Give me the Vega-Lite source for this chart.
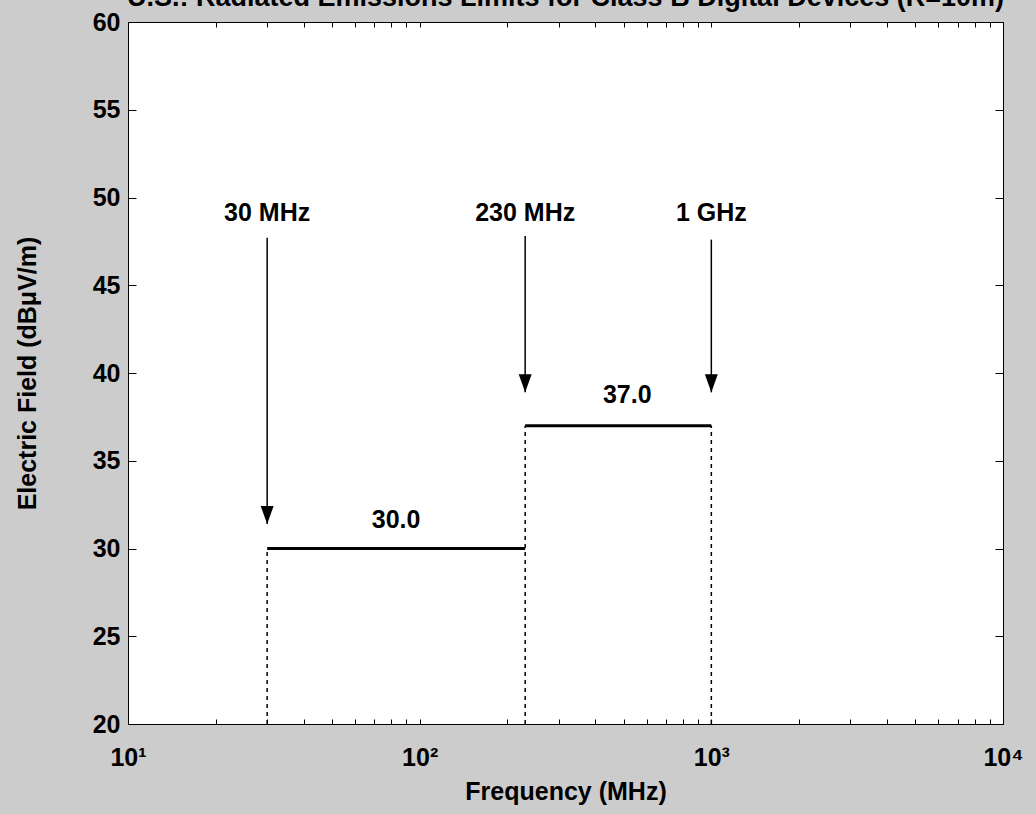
{
  "$schema": "https://vega.github.io/schema/vega-lite/v6.json",
  "width": 875,
  "height": 702,
  "autosize": {"type": "none"},
  "padding": {"left": 128, "top": 22, "right": 33, "bottom": 90},
  "background": "#cccccc",
  "title": {
    "text": "U.S.: Radiated Emissions Limits for Class B Digital Devices (R=10m)",
    "anchor": "middle",
    "baseline": "bottom",
    "offset": 0,
    "dy": 29,
    "font": "Liberation Sans",
    "fontSize": 27,
    "fontWeight": "bold",
    "color": "black"
  },
  "config": {
    "view": {"fill": "white", "stroke": "black", "strokeWidth": 1},
    "axis": {
      "grid": false,
      "domain": false,
      "tickColor": "black",
      "tickWidth": 1,
      "labelColor": "black",
      "labelFont": "Liberation Sans",
      "labelFontSize": 25,
      "labelFontWeight": "bold",
      "titleColor": "black",
      "titleFont": "Liberation Sans",
      "titleFontSize": 25,
      "titleFontWeight": "bold",
      "labelOverlap": false,
      "labelFlush": false,
      "labelBound": false
    },
    "text": {"font": "Liberation Sans", "fontSize": 25, "fontWeight": "bold", "color": "black"}
  },
  "datasets": {
    "limits": [
      {"f1": 30, "f2": 230, "limit": 30},
      {"f1": 230, "f2": 1000, "limit": 37}
    ],
    "dashes": [
      {"freq": 30, "lo": 20, "hi": 30},
      {"freq": 230, "lo": 20, "hi": 37},
      {"freq": 1000, "lo": 20, "hi": 37}
    ],
    "arrows": [
      {"freq": 30, "top": 47.7, "tip": 31.4},
      {"freq": 230, "top": 47.8, "tip": 38.9},
      {"freq": 1000, "top": 47.6, "tip": 38.9}
    ],
    "labels": [
      {"freq": 30, "level": 49.1, "text": "30 MHz"},
      {"freq": 230, "level": 49.1, "text": "230 MHz"},
      {"freq": 1000, "level": 49.1, "text": "1 GHz"},
      {"freq": 83, "level": 31.6, "text": "30.0"},
      {"freq": 515, "level": 38.75, "text": "37.0"}
    ]
  },
  "layer": [
    {
      "data": {"name": "limits"},
      "mark": {"type": "rule", "color": "black", "strokeWidth": 3},
      "encoding": {
        "x": {
          "field": "f1",
          "type": "quantitative",
          "scale": {"type": "log", "domain": [10, 10000]},
          "axis": {
            "orient": "bottom",
            "title": "Frequency (MHz)",
            "values": [10, 20, 30, 40, 50, 60, 70, 80, 90, 100, 200, 300, 400, 500, 600, 700, 800, 900, 1000, 2000, 3000, 4000, 5000, 6000, 7000, 8000, 9000, 10000],
            "labelExpr": "datum.value == 10 ? '10¹' : datum.value == 100 ? '10²' : datum.value == 1000 ? '10³' : datum.value == 10000 ? '10⁴' : ''",
            "tickSize": -5,
            "labelPadding": 26,
            "titlePadding": 9,
            "encode": {"ticks": {"update": {"y2": {"signal": "abs(log(datum.value)/LN10 - round(log(datum.value)/LN10)) < 0.001 ? -9 : -5"}}}}
          }
        },
        "x2": {"field": "f2"},
        "y": {
          "field": "limit",
          "type": "quantitative",
          "scale": {"domain": [20, 60]},
          "axis": {
            "orient": "left",
            "title": "Electric Field (dBμV/m)",
            "values": [20, 25, 30, 35, 40, 45, 50, 55, 60],
            "tickSize": -8,
            "labelPadding": 16,
            "titlePadding": 52
          }
        }
      }
    },
    {
      "data": {"name": "dashes"},
      "mark": {"type": "rule", "color": "black", "strokeWidth": 1.5, "strokeDash": [4, 4]},
      "encoding": {
        "x": {
          "field": "freq",
          "type": "quantitative",
          "axis": {
            "orient": "top",
            "title": null,
            "labels": false,
            "values": [10, 20, 30, 40, 50, 60, 70, 80, 90, 100, 200, 300, 400, 500, 600, 700, 800, 900, 1000, 2000, 3000, 4000, 5000, 6000, 7000, 8000, 9000, 10000],
            "tickSize": -5,
            "encode": {"ticks": {"update": {"y2": {"signal": "abs(log(datum.value)/LN10 - round(log(datum.value)/LN10)) < 0.001 ? 9 : 5"}}}}
          }
        },
        "y": {
          "field": "lo",
          "type": "quantitative",
          "axis": {
            "orient": "right",
            "title": null,
            "labels": false,
            "values": [20, 25, 30, 35, 40, 45, 50, 55, 60],
            "tickSize": -8
          }
        },
        "y2": {"field": "hi"}
      }
    },
    {
      "data": {"name": "arrows"},
      "mark": {"type": "rule", "color": "black", "strokeWidth": 1.5},
      "encoding": {
        "x": {"field": "freq", "type": "quantitative", "axis": null},
        "y": {"field": "top", "type": "quantitative", "axis": null},
        "y2": {"field": "tip"}
      }
    },
    {
      "data": {"name": "arrows"},
      "mark": {"type": "point", "shape": "M -0.36 -1 L 0.36 -1 L 0 0 Z", "filled": true, "color": "black", "opacity": 1, "size": 1296},
      "encoding": {
        "x": {"field": "freq", "type": "quantitative", "axis": null},
        "y": {"field": "tip", "type": "quantitative", "axis": null}
      }
    },
    {
      "data": {"name": "labels"},
      "mark": {"type": "text", "align": "center", "baseline": "middle"},
      "encoding": {
        "x": {"field": "freq", "type": "quantitative", "axis": null},
        "y": {"field": "level", "type": "quantitative", "axis": null},
        "text": {"field": "text"}
      }
    }
  ],
  "resolve": {"axis": {"x": "independent", "y": "independent"}}
}
